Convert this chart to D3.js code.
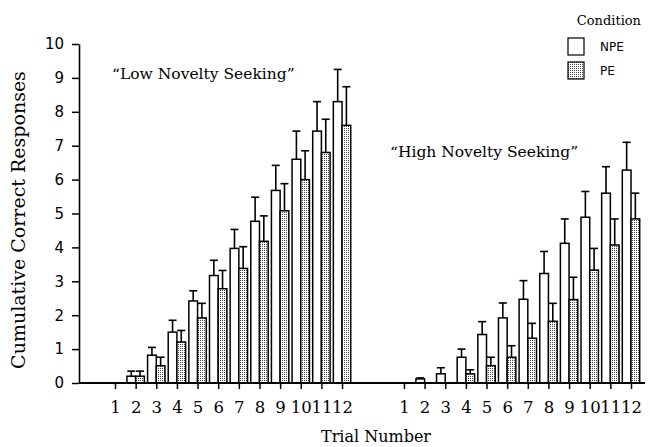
<!DOCTYPE html>
<html>
<head>
<meta charset="utf-8">
<script src="https://cdn.jsdelivr.net/npm/d3@7"></script>
<style>
body { margin: 0; background: #fff; }
</style>
</head>
<body>
<svg width="650" height="447"></svg>
<script>
// data
var trials = [1, 2, 3, 4, 5, 6, 7, 8, 9, 10, 11, 12];
var conditions = ["NPE", "PE"];
var lowNPE = [0, 0.2, 0.82, 1.5, 2.42, 3.17, 3.97, 4.77, 5.68, 6.6, 7.43, 8.3];
var lowNPEErr = [0, 0.35, 1.05, 1.85, 2.72, 3.62, 4.53, 5.48, 6.42, 7.43, 8.3, 9.25];
var lowPE = [0, 0.2, 0.51, 1.21, 1.92, 2.78, 3.38, 4.18, 5.08, 6.0, 6.8, 7.6];
var lowPEErr = [0, 0.35, 0.76, 1.55, 2.35, 3.32, 4.02, 4.93, 5.88, 6.85, 7.78, 8.74];
var highNPE = [0, 0.12, 0.27, 0.76, 1.43, 1.92, 2.47, 3.23, 4.12, 4.89, 5.6, 6.28];
var highNPEErr = [0, 0.15, 0.45, 1.0, 1.81, 2.36, 3.02, 3.88, 4.84, 5.65, 6.38, 7.1];
var highPE = [0, 0, 0, 0.27, 0.51, 0.76, 1.32, 1.82, 2.46, 3.33, 4.07, 4.84];
var highPEErr = [0, 0, 0, 0.39, 0.76, 1.1, 1.76, 2.35, 3.12, 3.97, 4.84, 5.6];
var yTicks = [0, 1, 2, 3, 4, 5, 6, 7, 8, 9, 10];

var svg = d3.select("svg");
var serif = "'DejaVu Serif', serif";
var sans = "'DejaVu Sans', sans-serif";

// both panels share one axis; two empty slots sit between them
var slots = trials.map(function(t) { return "L" + t; })
  .concat(["g1", "g2"])
  .concat(trials.map(function(t) { return "R" + t; }));

var x = d3.scalePoint().domain(slots).range([115, 631]);
var xSub = d3.scaleBand().domain(conditions).range([-8.7, 8.7]);
var y = d3.scaleLinear().domain([0, 10]).range([383, 44]);

var rows = [];
trials.forEach(function(t, i) {
  rows.push({slot: "L" + t, cond: "NPE", value: lowNPE[i], err: lowNPEErr[i]});
  rows.push({slot: "L" + t, cond: "PE", value: lowPE[i], err: lowPEErr[i]});
  rows.push({slot: "R" + t, cond: "NPE", value: highNPE[i], err: highNPEErr[i]});
  rows.push({slot: "R" + t, cond: "PE", value: highPE[i], err: highPEErr[i]});
});

// stipple fill for PE
var pat = svg.append("defs").append("pattern")
  .attr("id", "dots")
  .attr("width", 2)
  .attr("height", 2)
  .attr("patternUnits", "userSpaceOnUse");
pat.append("rect").attr("width", 2).attr("height", 2).attr("fill", "#fff");
pat.append("rect").attr("width", 1).attr("height", 1).attr("fill", "#444");

var fill = {NPE: "#fff", PE: "url(#dots)"};

// error bars (upper only)
var eb = svg.append("g").attr("stroke", "#000").attr("stroke-width", 1.6);
rows.filter(function(d) { return d.err > d.value; }).forEach(function(d) {
  var cx = x(d.slot) + xSub(d.cond) + xSub.bandwidth() / 2;
  eb.append("line")
    .attr("x1", cx).attr("x2", cx)
    .attr("y1", y(d.value)).attr("y2", y(d.err));
  eb.append("line")
    .attr("x1", cx - 4).attr("x2", cx + 4)
    .attr("y1", y(d.err)).attr("y2", y(d.err));
});

// bars
svg.append("g")
  .selectAll("rect")
  .data(rows.filter(function(d) { return d.value > 0; }))
  .enter().append("rect")
  .attr("x", function(d) { return x(d.slot) + xSub(d.cond); })
  .attr("y", function(d) { return y(d.value); })
  .attr("width", xSub.bandwidth())
  .attr("height", function(d) { return y(0) - y(d.value); })
  .attr("fill", function(d) { return fill[d.cond]; })
  .attr("stroke", "#000")
  .attr("stroke-width", 1.5);

// x axis
var xAxis = svg.append("g")
  .attr("transform", "translate(0," + y(0) + ")")
  .call(d3.axisBottom(x)
    .tickValues(slots.filter(function(s) { return s[0] != "g"; }))
    .tickFormat(function(s) { return s.slice(1); })
    .tickSize(6)
    .tickPadding(12));
xAxis.select(".domain").remove();
xAxis.append("line")
  .attr("x1", 79).attr("x2", 645)
  .attr("stroke", "#000").attr("stroke-width", 2);
xAxis.selectAll(".tick line").attr("stroke-width", 1.5);
xAxis.selectAll("text")
  .attr("font-family", serif)
  .attr("font-size", "16.5px")
  .attr("fill", "#000");

// y axis
var yAxis = svg.append("g")
  .attr("transform", "translate(79,0)")
  .call(d3.axisLeft(y).tickValues(yTicks).tickSize(7).tickSizeOuter(0).tickPadding(8));
yAxis.select(".domain").attr("stroke-width", 1.6);
yAxis.selectAll(".tick line").attr("stroke-width", 1.5);
yAxis.selectAll("text")
  .attr("font-family", sans)
  .attr("font-size", "15px")
  .attr("fill", "#000");

// axis titles
svg.append("text")
  .attr("transform", "translate(25,220) rotate(-90)")
  .attr("text-anchor", "middle")
  .attr("font-family", serif)
  .attr("font-size", "19px")
  .text("Cumulative Correct Responses");

svg.append("text")
  .attr("x", 376)
  .attr("y", 442)
  .attr("text-anchor", "middle")
  .attr("font-family", serif)
  .attr("font-size", "16px")
  .text("Trial Number");

// panel labels
svg.append("text")
  .attr("x", 112)
  .attr("y", 79)
  .attr("font-family", serif)
  .attr("font-size", "15.5px")
  .text("\u201cLow Novelty Seeking\u201d");

svg.append("text")
  .attr("x", 390)
  .attr("y", 157)
  .attr("font-family", serif)
  .attr("font-size", "15.5px")
  .text("\u201cHigh Novelty Seeking\u201d");

// legend
svg.append("text")
  .attr("x", 641)
  .attr("y", 25)
  .attr("text-anchor", "end")
  .attr("font-family", serif)
  .attr("font-size", "13px")
  .text("Condition");

var legend = svg.append("g")
  .selectAll("g")
  .data(conditions)
  .enter().append("g")
  .attr("transform", function(d, i) { return "translate(568," + (38 + i * 24) + ")"; });
legend.append("rect")
  .attr("width", 16)
  .attr("height", 17)
  .attr("fill", function(d) { return fill[d]; })
  .attr("stroke", "#000")
  .attr("stroke-width", 1.2);
legend.append("text")
  .attr("x", 32)
  .attr("y", 13)
  .attr("font-family", sans)
  .attr("font-size", "12px")
  .text(function(d) { return d; });
</script>
</body>
</html>
